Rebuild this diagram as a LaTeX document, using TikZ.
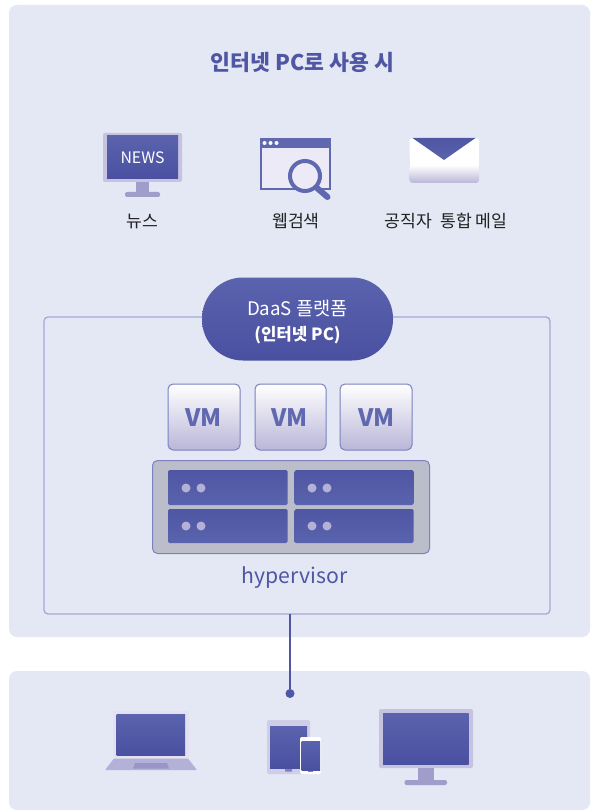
\documentclass[tikz,border=0pt]{standalone}
\usepackage{fontspec}
\setmainfont{Noto Sans CJK KR}
\usetikzlibrary{calc}
\definecolor{panelbg}{HTML}{E4E7F4}
\definecolor{ink}{HTML}{4F56A3}
\definecolor{inkdark}{HTML}{4A50A0}
\definecolor{inklight}{HTML}{5A63AE}
\definecolor{frameline}{HTML}{A4A9D6}
\definecolor{bezel}{HTML}{C6C3E1}
\definecolor{stand}{HTML}{A09DCB}
\definecolor{vmedge}{HTML}{7C82BF}
\definecolor{vmlow}{HTML}{B9B6D8}
\definecolor{rack}{HTML}{BBBECA}
\definecolor{dots}{HTML}{B3B1D8}
\definecolor{wpage}{HTML}{ECEAF6}
\definecolor{lapbezel}{HTML}{E3E0F0}
\definecolor{winframe}{HTML}{6068B0}
\definecolor{txt}{HTML}{222222}
\tikzset{
 x=1pt,y=-1pt,
 panel/.style={fill=panelbg,rounded corners=8pt},
 screen/.style={top color=inklight,bottom color=inkdark},
 vmbox/.style={draw=vmedge,line width=1pt,rounded corners=5pt,top color=white,bottom color=vmlow,minimum width=72pt,minimum height=66pt,inner sep=0pt},
 vmtext/.style={text=winframe,font=\bfseries\fontsize{24}{24}\selectfont,inner sep=0pt},
 srv/.style={rounded corners=1.5pt,top color=ink,bottom color=inklight},
 dotmark/.style={fill=dots},
 caption/.style={text=txt,font=\fontsize{17.2}{19}\selectfont,inner sep=0pt},
}
\begin{document}
\begin{tikzpicture}
\useasboundingbox (0,0) rectangle (592,810);
\fill[white] (0,0) rectangle (592,810);
% panels
\fill[panel] (9,5) rectangle (590,637);
\fill[panel] (9,671) rectangle (590,810);
\node[text=ink,font=\bfseries\fontsize{21.6}{24}\selectfont,inner sep=0pt] (title) at (302.5,62) {인터넷 PC로 사용 시};
% news monitor
\fill[bezel,rounded corners=2pt] (103,133) rectangle (182,182);
\path[screen] (107,136) rectangle (178,179);
\node[text=white,font=\fontsize{15.8}{17}\selectfont,inner sep=0pt] (news) at (142.5,158) {NEWS};
\fill[stand] (136,182) rectangle (149,193);
\fill[stand,rounded corners=2pt] (125,192) rectangle (160,197);
\node[caption] (l1) at (142.5,221) {뉴스};
% web search
\draw[winframe,line width=1.6pt,fill=wpage] (260.8,138.8) rectangle (330.2,189.2);
\fill[winframe] (260,138) rectangle (331,148);
\foreach \x in {264.5,270.5,276.5}{\fill[white] (\x,143) circle (2pt);}
\draw[winframe,line width=4pt,fill=wpage] (305,176) circle (15pt);
\draw[winframe,line width=6pt,line cap=round] (317,188) -- (327.5,197);
\node[caption] (l2) at (296,221) {웹검색};
% mail
\path[rounded corners=3pt,top color=white,bottom color=vmlow] (409.5,165) rectangle (479,183);
\fill[white,rounded corners=3pt] (409.5,138) rectangle (479,160);
\fill[white] (409.5,150) rectangle (479,166);
\path[top color=ink,bottom color=inklight] (412.5,138) -- (475.5,138) -- (444,160) -- cycle;
\node[caption] (l3) at (446,221) {공직자\hspace{.25em} 통합 메일};
% platform frame
\draw[frameline,line width=1.3pt,rounded corners=4pt] (44,317) rectangle (550,614);
\node[top color=inklight,bottom color=inkdark,rounded corners=41pt,minimum width=191pt,minimum height=83pt,inner sep=0pt] (daas) at (297.5,319) {};
\node[text=white,font=\fontsize{18.7}{20}\selectfont,inner sep=0pt] (daas1) at (297.5,308) {DaaS 플랫폼};
\node[text=white,font=\bfseries\fontsize{16.8}{18}\selectfont,inner sep=0pt] (daas2) at (297.5,335) {(인터넷 PC)};
% VMs
\node[vmbox] (vm1) at (204,417) {};
\node[vmtext] (vm1t) at (203.5,418) {VM};
\node[vmbox,minimum width=71pt] (vm2) at (290.5,417) {};
\node[vmtext] (vm2t) at (289.5,418) {VM};
\node[vmbox] (vm3) at (376,417) {};
\node[vmtext] (vm3t) at (376.5,418) {VM};
% rack
\node[draw=vmedge,fill=rack,line width=1pt,rounded corners=5pt,minimum width=277pt,minimum height=93pt,inner sep=0pt] (rack) at (291,507) {};
\path[srv] (168,470) rectangle (287.5,505);
\path[srv] (294.5,470) rectangle (413.5,505);
\path[srv] (168,509) rectangle (287.5,543);
\path[srv] (294.5,509) rectangle (413.5,543);
\foreach \x/\y in {186/488,201/488,312/488,327/488,186/526,201/526,312/526,327/526}{\fill[dotmark] (\x,\y) circle (4.5pt);}
\node[text=ink,font=\fontsize{21.2}{24}\selectfont,inner sep=0pt] (hyp) at (294.5,578) {hypervisor};
% connector
\coordinate (frameb) at (290,614);
\node[circle,fill=ink,minimum size=9pt,inner sep=0pt] (end) at (290,693.5) {};
\draw[ink,line width=1.6pt] (frameb) -- (end);
% laptop
\fill[lapbezel] (113,711) rectangle (189,759);
\path[screen] (116.5,714) rectangle (185,755.5);
\fill[dots,rounded corners=1pt] (114,758.5) -- (188,758.5) -- (197,770) -- (105,770) -- cycle;
\fill[stand!90!ink] (135,763) -- (167,763) -- (169,768.5) -- (133,768.5) -- cycle;
% tablet
\fill[bezel!70!panelbg,rounded corners=2pt] (267,720) rectangle (310,774);
\path[screen] (270,726) rectangle (307,768);
\fill[vmedge,rounded corners=.5pt] (285,769) rectangle (292,771.5);
\fill[white,rounded corners=2pt] (300,737) rectangle (321,774);
\path[screen] (301.5,741) rectangle (320,770);
\fill[vmedge] (308,770.8) rectangle (313,772.2);
% monitor
\fill[bezel,rounded corners=2pt] (379,709) rectangle (473,768);
\path[screen] (383,713.5) rectangle (468.5,764.5);
\fill[stand] (418,768) rectangle (434,781);
\fill[stand,rounded corners=2pt] (404.5,780) rectangle (447,785);
\end{tikzpicture}
\end{document}
